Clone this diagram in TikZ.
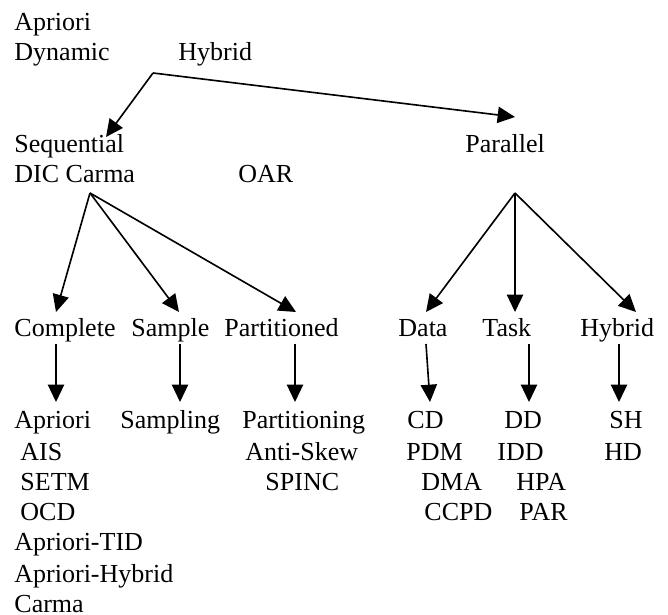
\documentclass[tikz,border=0pt]{standalone}
\usepackage{fontspec}
\setmainfont{Liberation Serif}
\usetikzlibrary{arrows.meta}

\begin{document}
\begin{tikzpicture}[x=0.4615pt, y=-0.4615pt,
  every node/.style={anchor=base west, inner sep=0pt, font=\fontsize{12}{14}\selectfont},
  arr/.style={-{Triangle[length=8pt,width=7.5pt]}, line width=0.75pt}]
\useasboundingbox (0,0) rectangle (668,615);
% top level
\node (apr) at (14,31) {Apriori};
\node (dyn) at (14,61) {Dynamic};
\node (hyb) at (178,61) {Hybrid};
\coordinate (root) at (153,73);
% second level
\node (seq) at (14,153) {Sequential};
\node (dic) at (14,183) {DIC Carma};
\node (oar) at (238,183) {OAR};
\node (par) at (465,153) {Parallel};
\coordinate (seqin) at (106,137);
\coordinate (parin) at (515,117);
\draw[arr] (root) -- (seqin);
\draw[arr] (root) -- (parin);
% sequential branch
\coordinate (seqout) at (90,193);
\node (comp) at (14,337) {Complete};
\node (samp) at (131,337) {Sample};
\node (part) at (224,337) {Partitioned};
\coordinate (compin) at (56,312);
\coordinate (sampin) at (179,312);
\coordinate (partin) at (296,312);
\draw[arr] (seqout) -- (compin);
\draw[arr] (seqout) -- (sampin);
\draw[arr] (seqout) -- (partin);
% parallel branch
\coordinate (parout) at (515,193);
\node (data) at (398,337) {Data};
\node (task) at (482,337) {Task};
\node (hyb2) at (580,337) {Hybrid};
\coordinate (datain) at (426,312);
\coordinate (taskin) at (515,312);
\coordinate (hyb2in) at (636,312);
\draw[arr] (parout) -- (datain);
\draw[arr] (parout) -- (taskin);
\draw[arr] (parout) -- (hyb2in);
% third level arrows
\coordinate (compout) at (56,344);
\coordinate (compend) at (56,402);
\coordinate (sampout) at (180,344);
\coordinate (sampend) at (180,402);
\coordinate (partout) at (295,344);
\coordinate (partend) at (295,402);
\coordinate (dataout) at (426,344);
\coordinate (dataend) at (430,402);
\coordinate (taskout) at (529,344);
\coordinate (taskend) at (529,402);
\coordinate (hyb2out) at (619,344);
\coordinate (hyb2end) at (619,402);
\draw[arr] (compout) -- (compend);
\draw[arr] (sampout) -- (sampend);
\draw[arr] (partout) -- (partend);
\draw[arr] (dataout) -- (dataend);
\draw[arr] (taskout) -- (taskend);
\draw[arr] (hyb2out) -- (hyb2end);
% complete algorithms
\node (c1) at (14,428) {Apriori};
\node (c2) at (20,460) {AIS};
\node (c3) at (20,490) {SETM};
\node (c4) at (20,520) {OCD};
\node (c5) at (14,550) {Apriori-TID};
\node (c6) at (14,582) {Apriori-Hybrid};
\node (c7) at (14,612) {Carma};
% sample and partitioned algorithms
\node (s1) at (120,428) {Sampling};
\node (p1) at (242,428) {Partitioning};
\node (p2) at (245,460) {Anti-Skew};
\node (p3) at (265,490) {SPINC};
% data parallel
\node (d1) at (407,428) {CD};
\node (d2) at (406,460) {PDM};
\node (d3) at (421,490) {DMA};
\node (d4) at (424,520) {CCPD};
% task parallel
\node (t1) at (504,428) {DD};
\node (t2) at (497,460) {IDD};
\node (t3) at (516,490) {HPA};
\node (t4) at (519,520) {PAR};
% hybrid parallel
\node (h1) at (609,428) {SH};
\node (h2) at (604,460) {HD};
\end{tikzpicture}
\end{document}
